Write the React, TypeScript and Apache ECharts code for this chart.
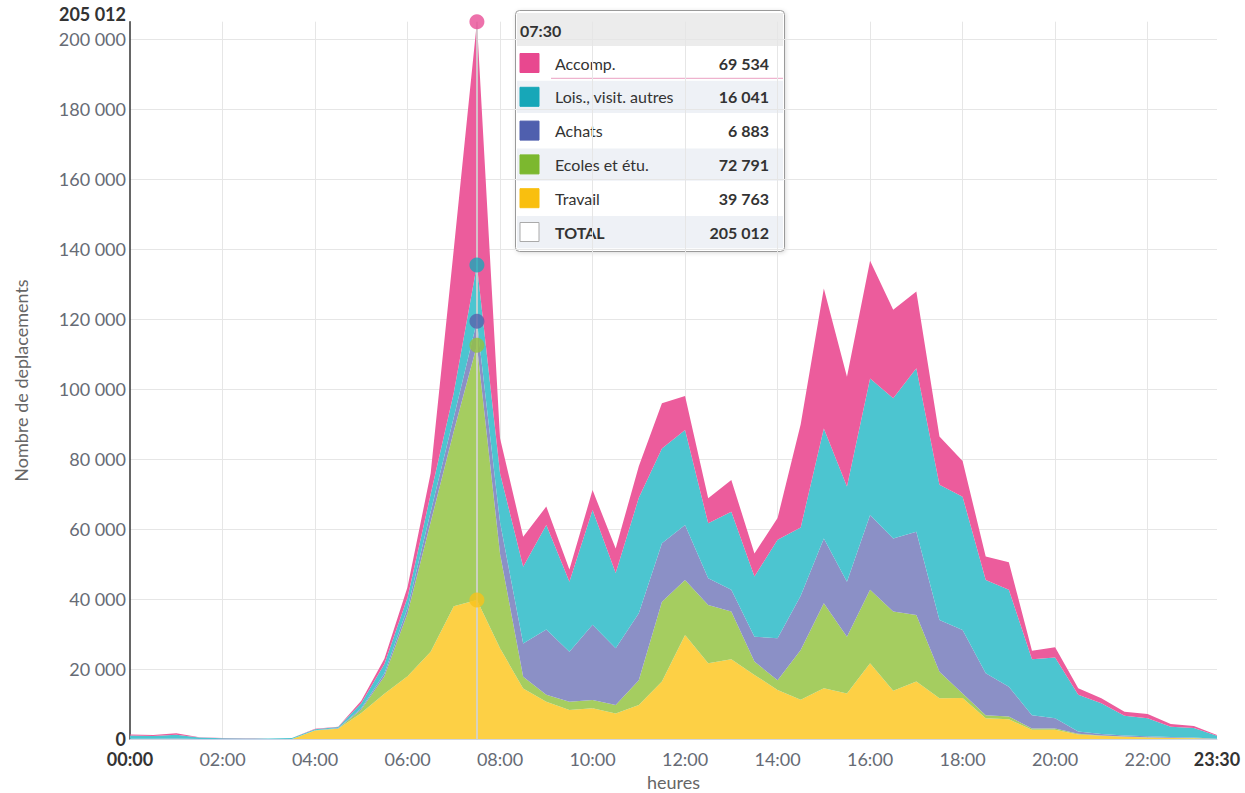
import React, { useEffect, useRef } from "react";
import * as echarts from "echarts";

const hours = [
  "00:00", "00:30", "01:00", "01:30", "02:00", "02:30", "03:00", "03:30",
  "04:00", "04:30", "05:00", "05:30", "06:00", "06:30", "07:00", "07:30",
  "08:00", "08:30", "09:00", "09:30", "10:00", "10:30", "11:00", "11:30",
  "12:00", "12:30", "13:00", "13:30", "14:00", "14:30", "15:00", "15:30",
  "16:00", "16:30", "17:00", "17:30", "18:00", "18:30", "19:00", "19:30",
  "20:00", "20:30", "21:00", "21:30", "22:00", "22:30", "23:00", "23:30",
];

const travail = [
  100, 100, 100, 50, 50, 50, 50, 100, 2500, 3000, 7500, 13000, 18000, 25000, 38000, 39763,
  26000, 14500, 10700, 8400, 8900, 7400, 9800, 16500, 29800, 21700, 22900, 18400, 14100, 11300, 14600, 13100,
  21700, 13900, 16500, 11700, 11800, 6000, 5700, 2700, 2700, 1400, 1000, 700, 500, 400, 300, 100,
];
const ecoles = [
  0, 0, 0, 0, 0, 0, 0, 0, 50, 100, 1000, 5000, 18000, 37000, 50000, 72791,
  27000, 3400, 2000, 2300, 2300, 2400, 7100, 22800, 15700, 16700, 13600, 3800, 2800, 14200, 24300, 16200,
  21000, 22600, 19000, 7600, 1300, 900, 800, 400, 400, 200, 100, 100, 50, 50, 50, 0,
];
const achats = [
  50, 50, 100, 50, 0, 0, 0, 0, 50, 100, 400, 800, 1500, 3000, 4000, 6883,
  9000, 9500, 18700, 14300, 21500, 16200, 19100, 16700, 15700, 7600, 6200, 7100, 12000, 15500, 18500, 15700,
  21400, 20900, 23800, 14800, 18100, 12000, 8500, 3800, 2900, 600, 400, 300, 300, 200, 150, 50,
];
const lois = [
  900, 800, 1100, 400, 250, 200, 150, 250, 300, 300, 1400, 2700, 3000, 5000, 7000, 16041,
  14000, 21900, 29800, 20000, 32800, 21500, 33000, 27100, 27200, 15700, 22300, 17200, 28100, 19500, 31400, 27200,
  39000, 40000, 46700, 38600, 38100, 26600, 27700, 16000, 17400, 10500, 8800, 5600, 5150, 2950, 2700, 850,
];
const accomp = [
  300, 250, 400, 100, 50, 50, 50, 50, 100, 100, 700, 1500, 3000, 6000, 41000, 69534,
  10000, 8600, 5300, 3500, 5700, 7000, 9000, 12900, 9700, 7200, 9100, 6600, 6200, 29500, 40000, 31400,
  33600, 25300, 21900, 13800, 10200, 6700, 7900, 2400, 2900, 1900, 1400, 1200, 1200, 800, 600, 200,
];

const HOVER = 15; // 07:30

const layers = [
  { name: "Travail", data: travail, area: "#fdd045", color: "#f9bf0f", marker: "#f7c21c" },
  { name: "Ecoles et étu.", data: ecoles, area: "#a5cd60", color: "#7cb82f", marker: "#94c23f" },
  { name: "Achats", data: achats, area: "#8b90c6", color: "#4f5fae", marker: "#5862ad" },
  { name: "Lois., visit. autres", data: lois, area: "#4cc5d0", color: "#17a7b8", marker: "#1ca8b9" },
  { name: "Accomp.", data: accomp, area: "#ec5c9c", color: "#e8488f", marker: "#e84e96" },
];

const fmt = (n: number) => String(Math.round(n)).replace(/\B(?=(\d{3})+(?!\d))/g, " ");

const FONT = "Lato, 'Open Sans', sans-serif";

export default function App() {
  const ref = useRef<HTMLDivElement>(null);

  useEffect(() => {
    if (!ref.current) return;
    const chart = echarts.init(ref.current, undefined, { renderer: "svg" });

    const totals = hours.map((_, i) => layers.reduce((s, l) => s + l.data[i], 0));
    const maxTotal = Math.max(...totals);

    let cum = 0;
    const markerData = layers.map((l) => {
      cum += l.data[HOVER];
      return { value: [HOVER, cum], itemStyle: { color: l.marker } };
    });

    const areaSeries = layers.map((l, idx) => ({
      name: l.name,
      type: "line",
      stack: "total",
      data: l.data,
      symbol: "none",
      showSymbol: false,
      lineStyle: { width: 0, opacity: 0 },
      areaStyle: { color: l.area, opacity: 1 },
      emphasis: { disabled: true },
      z: 2,
      ...(idx === layers.length - 1
        ? {
            markLine: {
              silent: true,
              symbol: ["none", "none"],
              label: { show: false },
              lineStyle: { color: "rgba(210,210,210,0.85)", width: 2, type: "solid" },
              data: [{ xAxis: hours[HOVER] }],
            },
          }
        : {}),
    }));

    const rowsInfo = [...layers].reverse().map((l) => ({
      name: l.name,
      value: l.data[HOVER],
      color: l.color,
      bold: false,
      total: false,
    }));
    rowsInfo.push({ name: "TOTAL", value: totals[HOVER], color: "#ffffff", bold: true, total: true });

    const rowTop = 37;
    const pitch = 33.8;
    const children: any[] = [
      {
        type: "rect",
        shape: { x: 0.5, y: 0.5, width: 269, height: 241, r: 4 },
        style: {
          fill: "rgba(255,255,255,0.97)",
          stroke: "#9a9a9a",
          lineWidth: 1,
          shadowBlur: 4,
          shadowColor: "rgba(0,0,0,0.15)",
          shadowOffsetX: 1,
          shadowOffsetY: 1,
        },
      },
      {
        type: "rect",
        shape: { x: 2, y: 3, width: 266, height: 33 },
        style: { fill: "#ececec" },
      },
      {
        type: "text",
        x: 5,
        y: 20,
        style: {
          text: hours[HOVER],
          font: `bold 16px ${FONT}`,
          fill: "#333333",
          verticalAlign: "middle",
          align: "left",
        },
      },
    ];
    rowsInfo.forEach((r, i) => {
      const top = rowTop + pitch * i;
      children.push({
        type: "rect",
        shape: { x: 2, y: top, width: 266, height: pitch - 1.5 },
        style: { fill: i % 2 === 0 ? "#ffffff" : "#eef1f6" },
      });
      children.push({
        type: "rect",
        shape: { x: 5, y: top + 6.5, width: 19, height: 19 },
        style: { fill: r.color, stroke: r.total ? "#aaaaaa" : r.color, lineWidth: 1 },
      });
      children.push({
        type: "text",
        x: 40,
        y: top + 16,
        style: {
          text: r.name,
          font: `${r.bold ? "bold " : ""}16px ${FONT}`,
          fill: "#333333",
          verticalAlign: "middle",
          align: "left",
        },
      });
      children.push({
        type: "text",
        x: 254,
        y: top + 16,
        style: {
          text: fmt(r.value),
          font: `bold 16px ${FONT}`,
          fill: "#333333",
          verticalAlign: "middle",
          align: "right",
        },
      });
    });
    children.push({
      type: "line",
      shape: { x1: 36, y1: rowTop + pitch - 2.5, x2: 268, y2: rowTop + pitch - 2.5 },
      style: { stroke: "#eaa0c2", lineWidth: 1 },
    });

    const option: any = {
      animation: false,
      textStyle: { fontFamily: FONT },
      grid: {
        left: 130,
        right: 28,
        top: 21.7,
        bottom: 53.7,
        containLabel: false,
        outerBoundsMode: "none",
      },
      xAxis: {
        type: "category",
        data: hours,
        boundaryGap: false,
        name: "heures",
        nameLocation: "middle",
        nameGap: 34,
        nameTextStyle: { fontSize: 18, lineHeight: 16, color: "#666666", fontFamily: FONT },
        axisLine: { show: true, lineStyle: { color: "#ccd6eb", width: 1 } },
        axisTick: { show: false },
        axisLabel: {
          interval: (i: number) => i % 4 === 0 || i === hours.length - 1,
          margin: 12,
          fontSize: 18,
          lineHeight: 16,
          color: "#666b75",
          fontFamily: FONT,
          formatter: (v: string, i: number) =>
            i === 0 || i === hours.length - 1 ? `{b|${v}}` : v,
          rich: {
            b: { fontWeight: "bold", color: "#333333", fontSize: 18, lineHeight: 16, fontFamily: FONT },
          },
        },
        splitLine: {
          show: true,
          interval: (i: number) => i > 0 && i % 4 === 0,
          lineStyle: { color: "#e6e6e6", width: 1 },
        },
      },
      yAxis: [
        {
          type: "value",
          min: 0,
          max: maxTotal,
          interval: 20000,
          name: "Nombre de deplacements",
          nameLocation: "middle",
          nameGap: 100,
          nameRotate: 90,
          nameTextStyle: { fontSize: 18, color: "#666666", fontFamily: FONT },
          axisLine: { show: true, lineStyle: { color: "#333333", width: 1.5 } },
          axisTick: { show: false },
          axisLabel: {
            margin: 4,
            fontSize: 18,
            lineHeight: 15,
            color: "#666b75",
            fontFamily: FONT,
            showMaxLabel: false,
            showMinLabel: true,
            hideOverlap: false,
            formatter: (v: number) => (v === 0 ? `{b|${fmt(v)}}` : fmt(v)),
            rich: {
              b: { fontWeight: "bold", color: "#333333", fontSize: 18, lineHeight: 15, fontFamily: FONT },
            },
          },
          splitLine: {
            show: true,
            lineStyle: {
              color: [...Array(11).fill("#e6e6e6"), "rgba(0,0,0,0)"],
              width: 1,
            },
          },
        },
        {
          type: "value",
          position: "left",
          min: 0,
          max: maxTotal,
          interval: maxTotal,
          axisLine: { show: false },
          axisTick: { show: false },
          splitLine: { show: false },
          axisLabel: {
            margin: 4,
            fontSize: 18,
            lineHeight: 15,
            verticalAlign: "bottom",
            showMinLabel: false,
            showMaxLabel: true,
            fontFamily: FONT,
            fontWeight: "bold",
            color: "#333333",
            formatter: (v: number) => (v === maxTotal ? fmt(v) : ""),
          },
        },
      ],
      series: [
        ...areaSeries,
        {
          name: "markers",
          type: "scatter",
          data: markerData,
          symbol: "circle",
          symbolSize: 15,
          z: 5,
          silent: true,
          emphasis: { disabled: true },
        },
      ],
      graphic: [
        {
          type: "group",
          x: 515,
          y: 10,
          z: 100,
          children,
        },
      ],
    };

    chart.setOption(option);
    return () => chart.dispose();
  }, []);

  return (
    <div
      ref={ref}
      style={{ position: "fixed", left: 0, top: 0, width: 1245, height: 793, background: "#ffffff" }}
    />
  );
}
